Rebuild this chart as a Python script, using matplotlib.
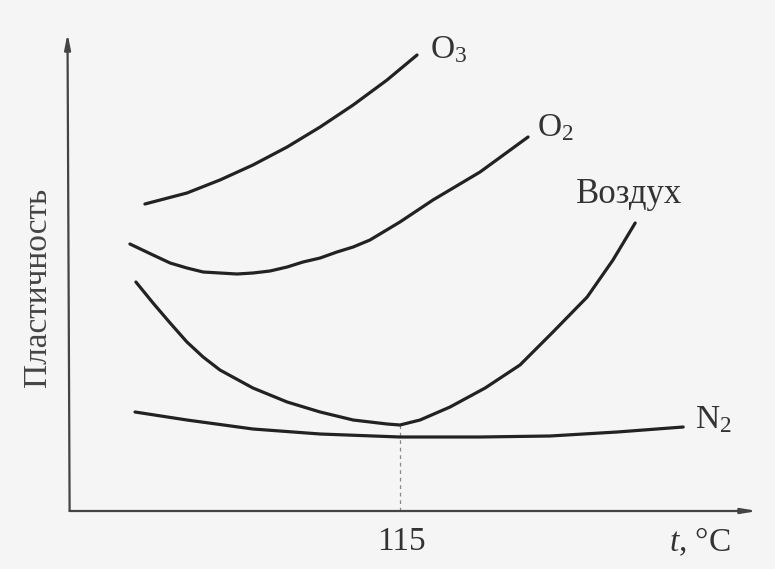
import matplotlib
matplotlib.use("Agg")
import matplotlib.pyplot as plt

plt.rcParams['font.family'] = ['Liberation Serif', 'DejaVu Serif']
plt.rcParams['mathtext.fontset'] = 'custom'
plt.rcParams['mathtext.rm'] = 'Liberation Serif'
plt.rcParams['mathtext.it'] = 'Liberation Serif:italic'

# temperature (deg C) and plasticity (arbitrary units)
t_o3 = [30.3, 44.3, 55.3, 66.3, 77.7, 88.7, 99.7, 111.0, 121.0]
p_o3 = [61.4, 63.6, 66.2, 69.2, 72.8, 76.8, 81.2, 86.2, 91.2]

t_o2 = [25.3, 33.0, 38.7, 44.3, 49.7, 55.3, 61.0, 66.3, 72.0, 77.7, 83.0,
        88.7, 94.3, 99.7, 105.3, 115.3, 126.3, 142.0, 158.0]
p_o2 = [53.4, 51.2, 49.6, 48.6, 47.8, 47.6, 47.4, 47.6, 48.0, 48.8, 49.8,
        50.6, 51.8, 52.8, 54.2, 57.8, 62.2, 67.8, 74.8]

t_air = [27.3, 33.0, 38.7, 44.3, 49.7, 55.3, 66.3, 77.7, 88.7, 99.7, 111.0,
         115.3, 122.0, 132.0, 143.7, 155.3, 166.3, 177.7, 186.3, 193.7]
p_air = [45.8, 41.6, 37.6, 33.8, 30.8, 28.2, 24.6, 21.8, 19.8, 18.2, 17.4,
         17.2, 18.2, 20.8, 24.6, 29.2, 35.8, 42.8, 50.2, 57.6]

t_n2 = [27.0, 44.3, 66.3, 88.7, 115.3, 142.0, 165.3, 187.7, 209.7]
p_n2 = [19.8, 18.2, 16.4, 15.4, 14.8, 14.8, 15.0, 15.8, 16.8]

t_mark = 115.3
xtick_label = "115"
xlabel = r"$t$, °C"
ylabel = "Пластичность"
labels = ["O$_3$", "O$_2$", "Воздух", "N$_2$"]

bg = '#f5f5f5'
ink = '#222222'

fig = plt.figure(figsize=(7.75, 5.69), dpi=100, facecolor=bg)
ax = fig.add_axes([0, 0, 1, 1], facecolor=bg)
ax.set_xlim(-18.0, 240.3)
ax.set_ylim(-11.6, 102.2)
ax.axis('off')

# axes with arrows
ax.annotate('', xy=(4.5, 95.5), xytext=(5.2, 0),
            arrowprops=dict(arrowstyle='-|>,head_length=0.9,head_width=0.18',
                            lw=1.6, color='#444444', shrinkA=0, shrinkB=0))
ax.annotate('', xy=(234.5, 0), xytext=(5.2, 0),
            arrowprops=dict(arrowstyle='-|>,head_length=0.9,head_width=0.15',
                            lw=1.6, color='#444444', shrinkA=0, shrinkB=0))

# dashed guide at 115
ax.plot([t_mark, t_mark], [0, min(p_air)], ls=(0, (3, 3)), lw=0.9, color='#888888')

kw = dict(color=ink, lw=2.3, solid_capstyle='round', solid_joinstyle='round')
ax.plot(t_o3, p_o3, **kw)
ax.plot(t_o2, p_o2, **kw)
ax.plot(t_air, p_air, **kw)
ax.plot(t_n2, p_n2, **kw)

fs = 24
tc = '#333333'
ax.text(125.3, 92.2, labels[0], fontsize=fs, color=tc, ha='left', va='center')
ax.text(161.0, 76.6, labels[1], fontsize=fs, color=tc, ha='left', va='center')
ax.text(174.0, 61.6, labels[2], fontsize=fs + 1, color=tc, ha='left', va='baseline')
ax.text(213.7, 18.2, labels[3], fontsize=fs, color=tc, ha='left', va='center')

ax.text(t_mark + 0.5, -3.0, xtick_label, fontsize=fs, color=tc, ha='center', va='top')
ax.text(215.3, -3.0, xlabel, fontsize=fs, color=tc, ha='center', va='top')
ax.text(-5.3, 44.8, ylabel, fontsize=fs, color='#444444', ha='center', va='center',
        rotation=90)

fig.savefig('out.png', dpi=100, facecolor=bg)
